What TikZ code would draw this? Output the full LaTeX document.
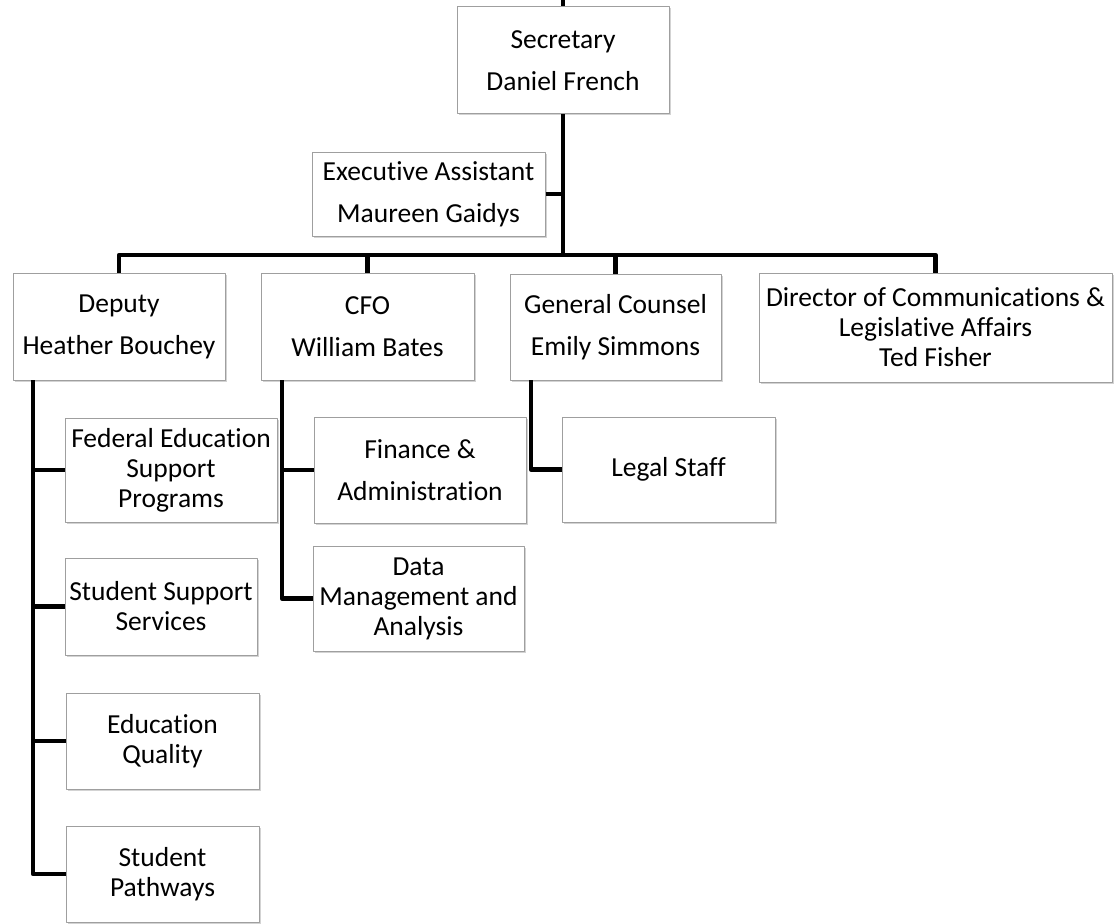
\documentclass[tikz,border=0pt]{standalone}
\usepackage{fontspec}
\setmainfont{Carlito}[Ligatures={NoCommon,NoContextual}]
\usetikzlibrary{positioning,shadows}

\begin{document}
\begin{tikzpicture}[x=1pt,y=-1pt, line join=round,
  box/.style={draw=gray!75, line width=1pt, fill=white, align=center, inner sep=0pt,
    font=\fontsize{27.5}{30}\selectfont,
    drop shadow={shadow xshift=1.5pt,shadow yshift=-1.5pt,opacity=0.35}},
  wide/.style={font=\fontsize{27.5}{42}\selectfont},
  link/.style={line width=4.5pt}]
\useasboundingbox (0,0) rectangle (1115,923);
% top level
\node[box,wide,minimum width=212pt,minimum height=107pt] (sec) at (563,60.5) {Secretary\\Daniel French};
\node[box,wide,minimum width=233pt,minimum height=84pt]  (ea)  at (428.5,194) {Executive Assistant\\Maureen Gaidys};
% second level
\node[box,wide,minimum width=212pt,minimum height=107pt] (dep) at (119,326.5) {Deputy\\Heather Bouchey};
\node[box,wide,minimum width=213pt,minimum height=107pt] (cfo) at (367.5,326.5) {CFO\\William Bates};
\node[box,wide,minimum width=211pt,minimum height=106pt] (gc)  at (615.5,327) {General Counsel\\Emily Simmons};
\node[box,minimum width=353pt,minimum height=109pt]      (dir) at (935.5,327.5) {Director of Communications \&\\Legislative Affairs\\Ted Fisher};
% units
\node[box,minimum width=212pt,minimum height=104pt]      (fesp)  at (171,470) {Federal Education\\Support\\Programs};
\node[box,minimum width=192pt,minimum height=97pt]       (sss)   at (161,606.5) {Student Support\\Services};
\node[box,minimum width=193pt,minimum height=96pt]       (eq)    at (162.5,741) {Education\\Quality};
\node[box,minimum width=193pt,minimum height=96pt]       (sp)    at (162.5,874) {Student\\Pathways};
\node[box,wide,minimum width=212pt,minimum height=106pt] (fa)    at (420,470) {Finance \&\\Administration};
\node[box,minimum width=211pt,minimum height=105pt]      (dma)   at (418.5,598.5) {Data\\Management and\\Analysis};
\node[box,minimum width=213pt,minimum height=105pt]      (legal) at (668.5,469.5) {Legal Staff};
% connectors
\coordinate (top) at (563,0);
\coordinate (hub) at (563,255);
\coordinate (dl)  at (33,380);
\coordinate (cl)  at (282,380);
\coordinate (gl)  at (531,380);
\draw[link] (top) -- (sec.north);
\draw[link] (sec.south) -- (hub);
\draw[link] (ea.east) -- (ea.east -| hub);
\draw[link] (dep.north) |- (dir.north |- hub) -- (dir.north);
\draw[link] (cfo.north) -- (cfo.north |- hub);
\draw[link] (gc.north) -- (gc.north |- hub);
\draw[link] (dl) |- (sp.west);
\foreach \u in {fesp,sss,eq}
  \draw[link] (dl |- \u.west) -- (\u.west);
\draw[link] (cl) |- (dma.west);
\draw[link] (cl |- fa.west) -- (fa.west);
\draw[link] (gl) |- (legal.west);
\end{tikzpicture}
\end{document}
